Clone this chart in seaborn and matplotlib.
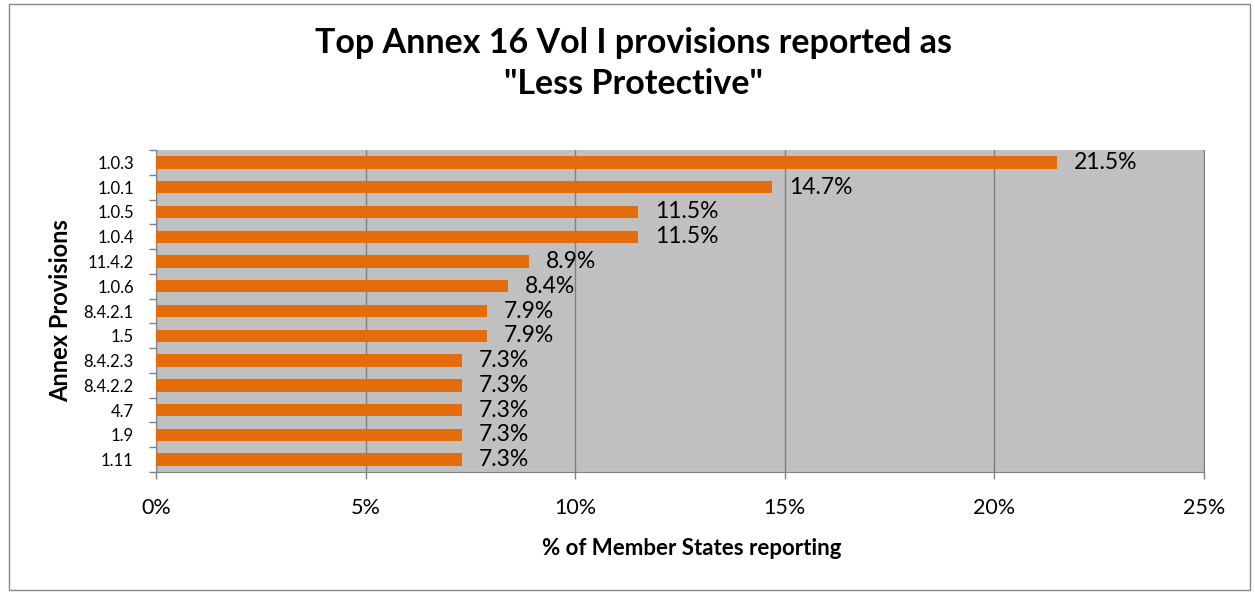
import pandas as pd
import numpy as np
import matplotlib.pyplot as plt
import seaborn as sns
from matplotlib.patches import Rectangle

# ------------------------------------------------------------
# Données
# ------------------------------------------------------------
provisions = ["1.0.3", "1.0.1", "1.0.5", "1.0.4", "11.4.2", "1.0.6", "8.4.2.1",
              "1.5", "8.4.2.3", "8.4.2.2", "4.7", "1.9", "1.11"]
pct_reporting = [21.5, 14.7, 11.5, 11.5, 8.9, 8.4, 7.9, 7.9, 7.3, 7.3, 7.3, 7.3, 7.3]
x_ticks = [0, 5, 10, 15, 20, 25]

df = pd.DataFrame({"Provision": provisions, "Pct": pct_reporting})

# ------------------------------------------------------------
# Figure
# ------------------------------------------------------------
sns.set_style("white")
plt.rcParams["font.family"] = ["Lato", "DejaVu Sans"]
plt.rcParams["text.color"] = "black"
plt.rcParams["axes.labelcolor"] = "black"
plt.rcParams["xtick.color"] = "black"
plt.rcParams["ytick.color"] = "black"
plt.rcParams["xtick.bottom"] = True
plt.rcParams["ytick.left"] = True

fig = plt.figure(figsize=(12.55, 5.92), dpi=100)
ax = fig.add_axes([0.1243, 0.2027, 0.8351, 0.5439])
ax.set_facecolor("#C0C0C0")

sns.barplot(data=df, y="Provision", x="Pct", orient="h", color="#E46C0A",
            saturation=1, width=0.5, linewidth=0, ax=ax, zorder=3)

for i, v in enumerate(pct_reporting):
    ax.text(v + 0.4, i, f"{v:.1f}%", va="center", ha="left", fontsize=16.5, zorder=4)

ax.set_xlim(0, 25)
ax.set_ylim(len(provisions) - 0.5, -0.5)
ax.set_xticks(x_ticks)
ax.set_xticklabels([f"{t}%" for t in x_ticks], fontsize=15.5)
ax.set_yticks(range(len(provisions)))
ax.set_yticklabels(provisions, fontsize=12)
ax.tick_params(axis="y", which="major", length=0, pad=16)
ax.tick_params(axis="x", which="major", length=5, width=1, color="#808080",
               direction="out", pad=14)

# petits traits entre catégories
ax.set_yticks(np.arange(-0.5, len(provisions)), minor=True)
ax.tick_params(axis="y", which="minor", left=True, length=5, color="#808080",
               width=1, direction="out")

ax.grid(axis="x", color="#808080", linewidth=1, zorder=1)
ax.set_axisbelow(True)
ax.spines["top"].set_visible(False)
for s in ["left", "bottom", "right"]:
    ax.spines[s].set_color("#808080")

ax.set_xlabel("% of Member States reporting", fontsize=16, fontweight="bold",
              labelpad=14, x=0.511)
ax.set_ylabel("Annex Provisions", fontsize=17, fontweight="bold", labelpad=8)

fig.text(0.505, 0.955, 'Top Annex 16 Vol I provisions reported as\n"Less Protective"',
         ha="center", va="top", fontsize=24.5, fontweight="bold", linespacing=1.35)

# cadre du graphique
fig.patches.append(Rectangle((0.007, 0.004), 0.989, 0.99, transform=fig.transFigure,
                             fill=False, edgecolor="#888888", linewidth=1))

fig.savefig("out.png", dpi=100)
